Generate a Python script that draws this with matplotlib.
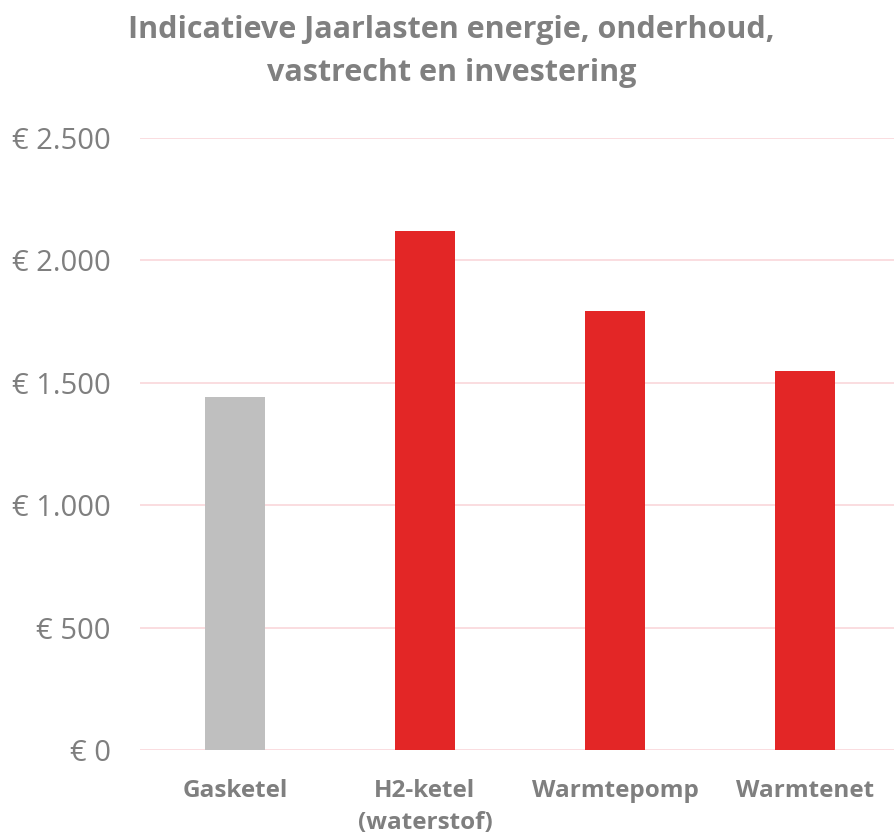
import matplotlib.pyplot as plt
from matplotlib.ticker import FuncFormatter

categorieen = ["Gasketel", "H2-ketel\n(waterstof)", "Warmtepomp", "Warmtenet"]
jaarlasten = [1442, 2120, 1793, 1548]
kleuren = ["#bfbfbf", "#e32626", "#e32626", "#e32626"]
yticks = [0, 500, 1000, 1500, 2000, 2500]

plt.rcParams['font.family'] = ['Open Sans', 'DejaVu Sans']

fig = plt.figure(figsize=(8.94, 8.39), dpi=100)
ax = fig.add_axes([140/894, 89/839, 760/894, 612/839])

ax.bar(range(len(categorieen)), jaarlasten, width=0.316, color=kleuren, zorder=3)

ax.set_xlim(-0.5, 3.5)
ax.set_ylim(0, 2500)
ax.set_yticks(yticks)
ax.yaxis.set_major_formatter(FuncFormatter(lambda v, p: "€ " + f"{int(v):,}".replace(",", ".")))
ax.set_xticks(range(len(categorieen)))
ax.set_xticklabels(categorieen, fontsize=17.5, fontweight='bold', color='#7f7f7f', linespacing=1.45)
ax.tick_params(axis='y', labelsize=21, labelcolor='#7f7f7f', length=0, pad=21)
ax.tick_params(axis='x', length=0, pad=21)

ax.grid(axis='y', color='#fadadd', linewidth=1.3, zorder=0)
for s in ax.spines.values():
    s.set_visible(False)

fig.text(0.505, 0.982, "Indicatieve Jaarlasten energie, onderhoud,\nvastrecht en investering",
         ha='center', va='top', fontsize=22, fontweight='bold', color='#808080', linespacing=1.55)

plt.savefig("out.png", dpi=100)
